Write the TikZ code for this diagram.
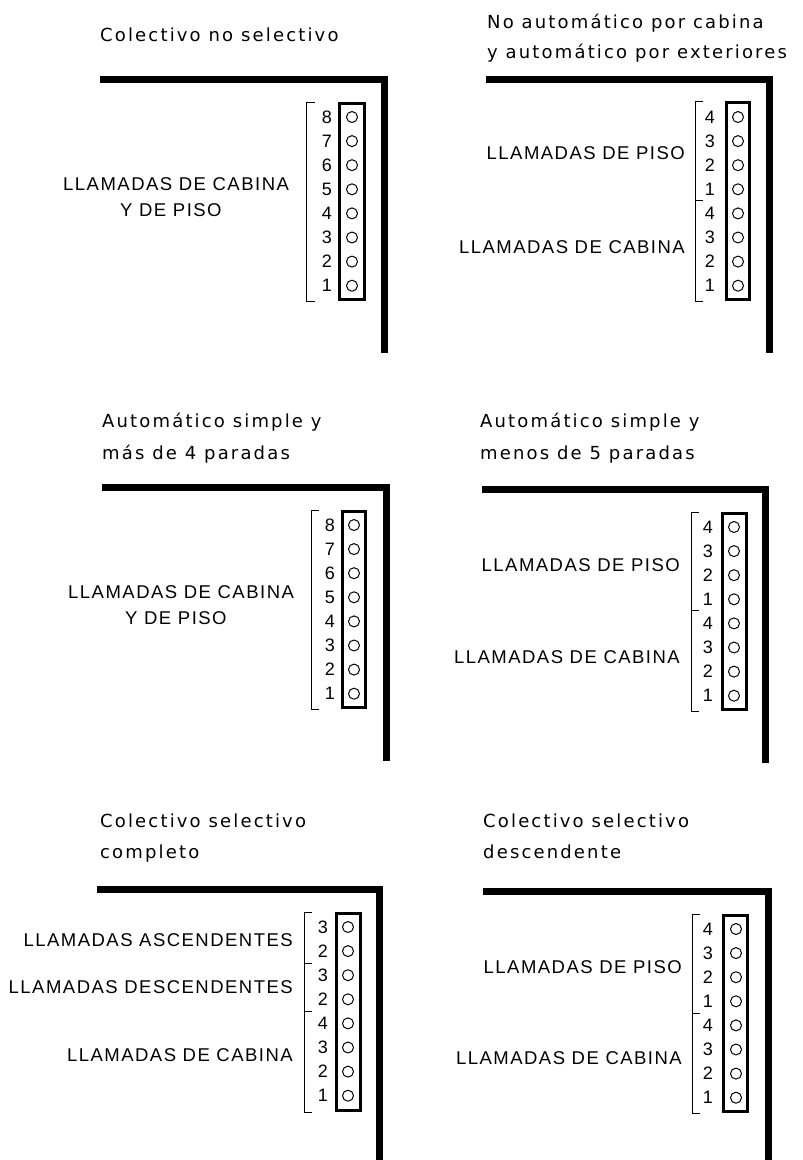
\documentclass[tikz,border=0pt]{standalone}
\usepackage{fontspec}
\setmainfont{Liberation Sans}
\newfontfamily\titlefont[LetterSpace=12]{DejaVu Sans}
\newfontfamily\labelfont[LetterSpace=8]{Liberation Sans}
\usepackage{tikz}

\begin{document}
\begin{tikzpicture}[line cap=round,line join=round,x=1pt,y=-1pt,
  titulo/.style={anchor=base west,inner sep=0pt,font=\titlefont\fontsize{18}{20}\selectfont},
  rotulo/.style={inner sep=0pt,font=\labelfont\fontsize{18.5}{20}\selectfont},
  numero/.style={anchor=base east,inner sep=0pt,font=\fontsize{18}{20}\selectfont},
  pared/.style={line width=7pt,line cap=butt,line join=miter},
  caja/.style={line width=3pt,line cap=butt,line join=miter},
  llave/.style={line width=1pt,line cap=butt,line join=miter},
  boton/.style={line width=1pt}]
\useasboundingbox (0,0) rectangle (803,1160);
% Colectivo no selectivo
\node[titulo] (t1) at (100,41) {Colectivo no selectivo};
\draw[pared] (100,79.5) -| (384.5,353);
\draw[caja] (339.5,103.5) rectangle (364.5,299.5);
\draw[llave] (315,102) -- (306,102) -- (306,301) -- (315,301);
\foreach \n [count=\i from 0] in {8,7,6,5,4,3,2,1}
  {\draw[boton] (352,117+24.1*\i) circle (5.5);
   \node[numero] (p1n\i) at (332,123+24.1*\i) {\n};}
\node[rotulo,anchor=base west] (p1a) at (63,190.5) {LLAMADAS DE CABINA};
\node[rotulo,anchor=base west] (p1b) at (120,216) {Y DE PISO};
% No automatico por cabina
\node[titulo] (t2a) at (487,28) {No automático por cabina};
\node[titulo] (t2b) at (487,58) {y automático por exteriores};
\draw[pared] (486,79.5) -| (769.5,353);
\draw[caja] (726.5,102.5) rectangle (749.5,299.5);
\draw[llave] (703,101) -- (695,101) -- (695,301) -- (703,301);
\draw[llave] (695,200) -- (703,200);
\foreach \n [count=\i from 0] in {4,3,2,1,4,3,2,1}
  {\draw[boton] (738,117+24.1*\i) circle (5.5);
   \node[numero] (p2n\i) at (715,123+24.1*\i) {\n};}
\node[rotulo,anchor=base east] (p2a) at (685,159.5) {LLAMADAS DE PISO};
\node[rotulo,anchor=base east] (p2b) at (685,253.5) {LLAMADAS DE CABINA};
% Automatico simple, mas de 4
\node[titulo] (t3a) at (102,427) {Automático simple y};
\node[titulo] (t3b) at (102,459) {más de 4 paradas};
\draw[pared] (102,487.5) -| (386.5,761);
\draw[caja] (342.5,511.5) rectangle (365.5,707.5);
\draw[llave] (319,510) -- (311,510) -- (311,709) -- (319,709);
\foreach \n [count=\i from 0] in {8,7,6,5,4,3,2,1}
  {\draw[boton] (354,525+24.1*\i) circle (5.5);
   \node[numero] (p3n\i) at (335,531+24.1*\i) {\n};}
\node[rotulo,anchor=base west] (p3a) at (68,598.5) {LLAMADAS DE CABINA};
\node[rotulo,anchor=base west] (p3b) at (125,624.5) {Y DE PISO};
% Automatico simple, menos de 5
\node[titulo] (t4a) at (480,427) {Automático simple y};
\node[titulo] (t4b) at (480,459) {menos de 5 paradas};
\draw[pared] (482,489.5) -| (765.5,763);
\draw[caja] (722.5,513.5) rectangle (746.5,709.5);
\draw[llave] (699,512) -- (691,512) -- (691,711) -- (699,711);
\draw[llave] (691,610) -- (699,610);
\foreach \n [count=\i from 0] in {4,3,2,1,4,3,2,1}
  {\draw[boton] (734,527+24.1*\i) circle (5.5);
   \node[numero] (p4n\i) at (713,533+24.1*\i) {\n};}
\node[rotulo,anchor=base east] (p4a) at (680,571.5) {LLAMADAS DE PISO};
\node[rotulo,anchor=base east] (p4b) at (680,663.5) {LLAMADAS DE CABINA};
% Colectivo selectivo completo
\node[titulo] (t5a) at (100,827) {Colectivo selectivo};
\node[titulo] (t5b) at (100,858) {completo};
\draw[pared] (97,889.5) -| (379.5,1160);
\draw[caja] (336.5,913.5) rectangle (360.5,1110.5);
\draw[llave] (312,912) -- (304,912) -- (304,1112) -- (312,1112);
\draw[llave] (304,963) -- (312,963);
\draw[llave] (304,1011) -- (312,1011);
\foreach \n [count=\i from 0] in {3,2,3,2,4,3,2,1}
  {\draw[boton] (348,927+24.1*\i) circle (5.5);
   \node[numero] (p5n\i) at (328,933+24.1*\i) {\n};}
\node[rotulo,anchor=base east] (p5a) at (293,946.5) {LLAMADAS ASCENDENTES};
\node[rotulo,anchor=base east] (p5b) at (293,993.5) {LLAMADAS DESCENDENTES};
\node[rotulo,anchor=base east] (p5c) at (293,1061.5) {LLAMADAS DE CABINA};
% Colectivo selectivo descendente
\node[titulo] (t6a) at (483,827) {Colectivo selectivo};
\node[titulo] (t6b) at (483,858) {descendente};
\draw[pared] (483,891.5) -| (768.5,1160);
\draw[caja] (723.5,915.5) rectangle (747.5,1111.5);
\draw[llave] (700,914) -- (692,914) -- (692,1113) -- (700,1113);
\draw[llave] (692,1013) -- (700,1013);
\foreach \n [count=\i from 0] in {4,3,2,1,4,3,2,1}
  {\draw[boton] (736,929+24.1*\i) circle (5.5);
   \node[numero] (p6n\i) at (713,935+24.1*\i) {\n};}
\node[rotulo,anchor=base east] (p6a) at (682,973.5) {LLAMADAS DE PISO};
\node[rotulo,anchor=base east] (p6b) at (682,1064.5) {LLAMADAS DE CABINA};
\end{tikzpicture}
\end{document}
